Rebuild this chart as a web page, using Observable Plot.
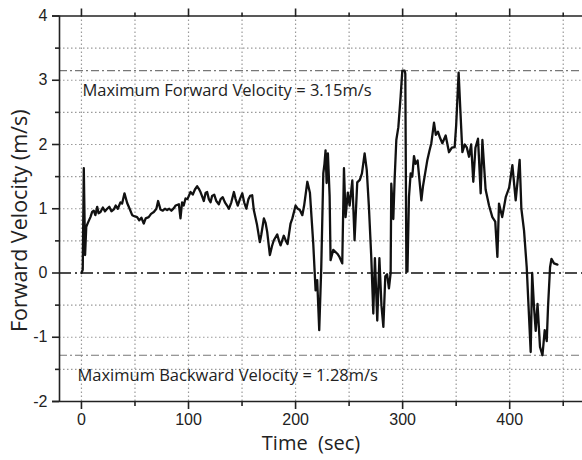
<!DOCTYPE html>
<html>
<head>
<meta charset="utf-8">
<script src="https://cdn.jsdelivr.net/npm/d3@7"></script>
<script src="https://cdn.jsdelivr.net/npm/@observablehq/plot@0.6"></script>
<style>
  html, body { margin: 0; padding: 0; background: #fff; }
  #chart { width: 582px; height: 460px; }
</style>
</head>
<body>
<div id="chart"></div>
<script>
const time = [0,1.2,2.2,3.4,4.5,6,8.4,10,11.5,13,14.7,16,17.8,20,22,24,26,28,30.2,32,34,36.4,38,40.2,42.7,45,47.4,50,52,54,56,58.2,60,62.8,65,67.6,70,71.6,73.8,76,78,80,82,84,86.3,88,91,92.5,94,95.5,97.2,99,101.9,104,106,108.1,110,111.2,113,114.3,116,117.4,119,120.6,122,124,126,128.3,130,132,134,136,137.7,140,142.4,144,146,148,150.2,152,154,156,157.5,159.5,161,164,166.6,168,170.4,172,173.5,176,178,179.7,182.9,184.5,186,189,191,192.5,195.3,197,200,202,204,206.3,208,211,213.4,216.5,218.7,220.2,222.1,224,225.9,227,228,229,230.2,231.8,232.7,235.2,239,241,243.6,245.2,246.7,248.8,250.5,253,255.1,257.6,260,262,264.5,266.5,268.5,270.7,272.6,274.1,276.3,278.3,280.2,282,283.8,285.5,287.2,288.8,289.4,291.3,292.5,294.1,296,298.1,299.7,301.9,302.5,303.5,304.5,305.9,307.5,309,310.6,312,314,317.5,319,321,323.1,325,326.8,329.3,331,333,335,337.1,340.2,343.3,346,348.6,350,352.3,354,355.8,358,360,362,364,366,368,370.4,372.9,374.5,377.5,380.7,383.8,386.5,388.5,390,393,396.3,399.5,402.5,405.6,409.3,410.9,413.4,415.9,417.5,419.6,421,422.7,424.3,426,428.3,430.6,432.7,434.6,435.8,437.7,439,441.4,444.6];
const velocity = [0,0.05,1.63,0.28,0.72,0.78,0.87,0.95,0.97,0.9,1.03,0.93,0.95,1.02,0.96,1.0,1.03,0.96,0.99,1.05,1.0,1.1,1.08,1.24,1.09,1.0,0.9,0.88,0.87,0.82,0.86,0.77,0.85,0.87,0.92,0.95,1.0,1.12,0.99,0.97,1.0,0.98,1.0,0.97,1.01,1.05,1.07,0.85,1.1,1.05,1.16,1.15,1.26,1.22,1.3,1.35,1.3,1.26,1.18,1.12,1.25,1.26,1.15,1.1,1.2,1.22,1.12,1.07,1.15,1.18,1.1,1.05,1.0,1.1,1.26,1.15,1.05,1.15,1.24,1.1,1.0,1.15,1.2,1.21,0.98,0.75,0.48,0.6,0.85,0.78,0.64,0.28,0.42,0.51,0.6,0.5,0.43,0.58,0.5,0.45,0.77,0.85,1.05,1.0,0.98,0.9,1.05,1.42,1.25,0.46,-0.27,-0.11,-0.89,0.09,1.55,1.7,1.91,1.4,1.86,1.2,0.2,0.36,0.3,0.25,0.15,1.63,0.87,1.25,1.05,1.44,0.51,1.41,1.45,1.55,1.86,1.6,1.03,0.25,-0.63,0.23,-0.74,0.23,-0.5,-0.84,-0.05,-0.02,-0.24,0,1.39,0.84,1.45,2.07,2.27,2.74,3.15,3.15,3.1,0.02,0.02,1.18,1.55,1.5,1.82,1.7,1.75,1.13,1.35,1.55,1.76,1.9,2.02,2.34,2.15,2.2,2.1,2.02,2.14,1.88,1.95,1.96,2.3,3.12,2.5,1.88,2.0,1.95,1.81,2.0,1.42,1.95,2.09,1.24,2.07,1.3,1.05,0.87,0.8,0.25,1.08,0.87,1.18,1.33,1.68,1.13,1.76,1.0,0.66,0.09,-0.48,-1.23,0.0,-0.53,-0.9,-0.48,-1.15,-1.28,-0.89,-1.06,-0.53,0.09,0.22,0.15,0.13];

const xMajorTicks = [0, 100, 200, 300, 400];
const xMinorTicks = [50, 150, 250, 350, 450];
const yMajorTicks = [-2, -1, 0, 1, 2, 3, 4];
const yMinorTicks = [-1.5, -0.5, 0.5, 1.5, 2.5, 3.5];
const xGrid = [0, 50, 100, 150, 200, 250, 300, 350, 400, 450];
const yGrid = [-1.5, -1, -0.5, 0.5, 1, 1.5, 2, 2.5, 3, 3.5];
const maxForward = 3.15;
const maxBackward = 1.28;
const xLabel = "Time  (sec)";
const yLabel = "Forward Velocity (m/s)";
const fwdText = `Maximum Forward Velocity = ${maxForward.toFixed(2)}m/s`;
const bwdText = `Maximum Backward Velocity = ${maxBackward.toFixed(2)}m/s`;

const data = time.map((t, i) => ({t, v: velocity[i]}));
const xDomain = [-20.5, 468];
const yDomain = [-2, 4];
const tickFont = "Liberation Sans, Arial, sans-serif";
const labelFont = "Open Sans, Noto Sans, sans-serif";

const chart = Plot.plot({
  width: 582,
  height: 460,
  marginLeft: 59,
  marginRight: 0,
  marginTop: 15.5,
  marginBottom: 59,
  style: {fontFamily: tickFont, background: "#fff", overflow: "visible"},
  x: {domain: xDomain, axis: null},
  y: {domain: yDomain, axis: null},
  marks: [
    Plot.ruleX(xGrid, {y1: yDomain[0], y2: yDomain[1], stroke: "#9a9a9a", strokeWidth: 1.2, strokeDasharray: "1.5,2.5"}),
    Plot.ruleY(yGrid, {x1: xDomain[0], x2: xDomain[1], stroke: "#9a9a9a", strokeWidth: 1.2, strokeDasharray: "1.5,2.5"}),
    Plot.ruleY([maxForward, -maxBackward], {x1: xDomain[0], x2: xDomain[1], stroke: "#777", strokeWidth: 1.2, strokeDasharray: "8,3,2,3"}),
    Plot.ruleY([0], {x1: xDomain[0], x2: xDomain[1], stroke: "#111", strokeWidth: 1.6, strokeDasharray: "12,4,2,4"}),
    Plot.line(data, {x: "t", y: "v", stroke: "#111", strokeWidth: 2.3, strokeLinejoin: "round"}),
    // frame
    Plot.ruleX([xDomain[0]], {y1: yDomain[0], y2: yDomain[1], stroke: "#222", strokeWidth: 1.6}),
    Plot.ruleY([yDomain[0], yDomain[1]], {x1: -27, x2: xDomain[1], stroke: "#222", strokeWidth: 1.6}),
    // axes ticks
    Plot.axisX({anchor: "bottom", label: null, ticks: xMajorTicks, tickSize: 8, tickPadding: 4, fontSize: 16, tickFormat: d => d, stroke: "#222", strokeWidth: 1.6, fill: "#222"}),
    Plot.axisX({anchor: "bottom", label: null, ticks: xMinorTicks, tickSize: 5, tickFormat: () => "", stroke: "#222", strokeWidth: 1.6}),
    Plot.axisX({anchor: "top", label: null, ticks: xMajorTicks, tickSize: 8, tickFormat: () => "", stroke: "#222", strokeWidth: 1.6}),
    Plot.axisX({anchor: "top", label: null, ticks: xMinorTicks, tickSize: 4, tickFormat: () => "", stroke: "#222", strokeWidth: 1.6}),
    Plot.axisY({anchor: "left", label: null, ticks: yMajorTicks, tickSize: 7, tickPadding: 5, fontSize: 16, tickFormat: d => d, stroke: "#222", strokeWidth: 1.6, fill: "#222"}),
    Plot.axisY({anchor: "left", label: null, ticks: yMinorTicks, tickSize: 4, tickFormat: () => "", stroke: "#222", strokeWidth: 1.6}),
    // labels
    Plot.text([yLabel], {frameAnchor: "left", textAnchor: "middle", lineAnchor: "middle", dx: -39, dy: 12, rotate: -90, fontSize: 21.5, fontFamily: labelFont, fill: "#222"}),
    Plot.text([xLabel], {frameAnchor: "bottom", textAnchor: "middle", lineAnchor: "middle", dx: -10, dy: 42, fontSize: 20, fontFamily: labelFont, fill: "#222"}),
    Plot.text([fwdText], {x: 0, y: maxForward, dx: 1, dy: 20, textAnchor: "start", fontSize: 16.5, fontFamily: labelFont, fill: "#222"}),
    Plot.text([bwdText], {x: 0, y: -maxBackward, dx: -4, dy: 20, textAnchor: "start", fontSize: 16.5, fontFamily: labelFont, fill: "#222"})
  ]
});
document.getElementById("chart").appendChild(chart);
</script>
</body>
</html>
